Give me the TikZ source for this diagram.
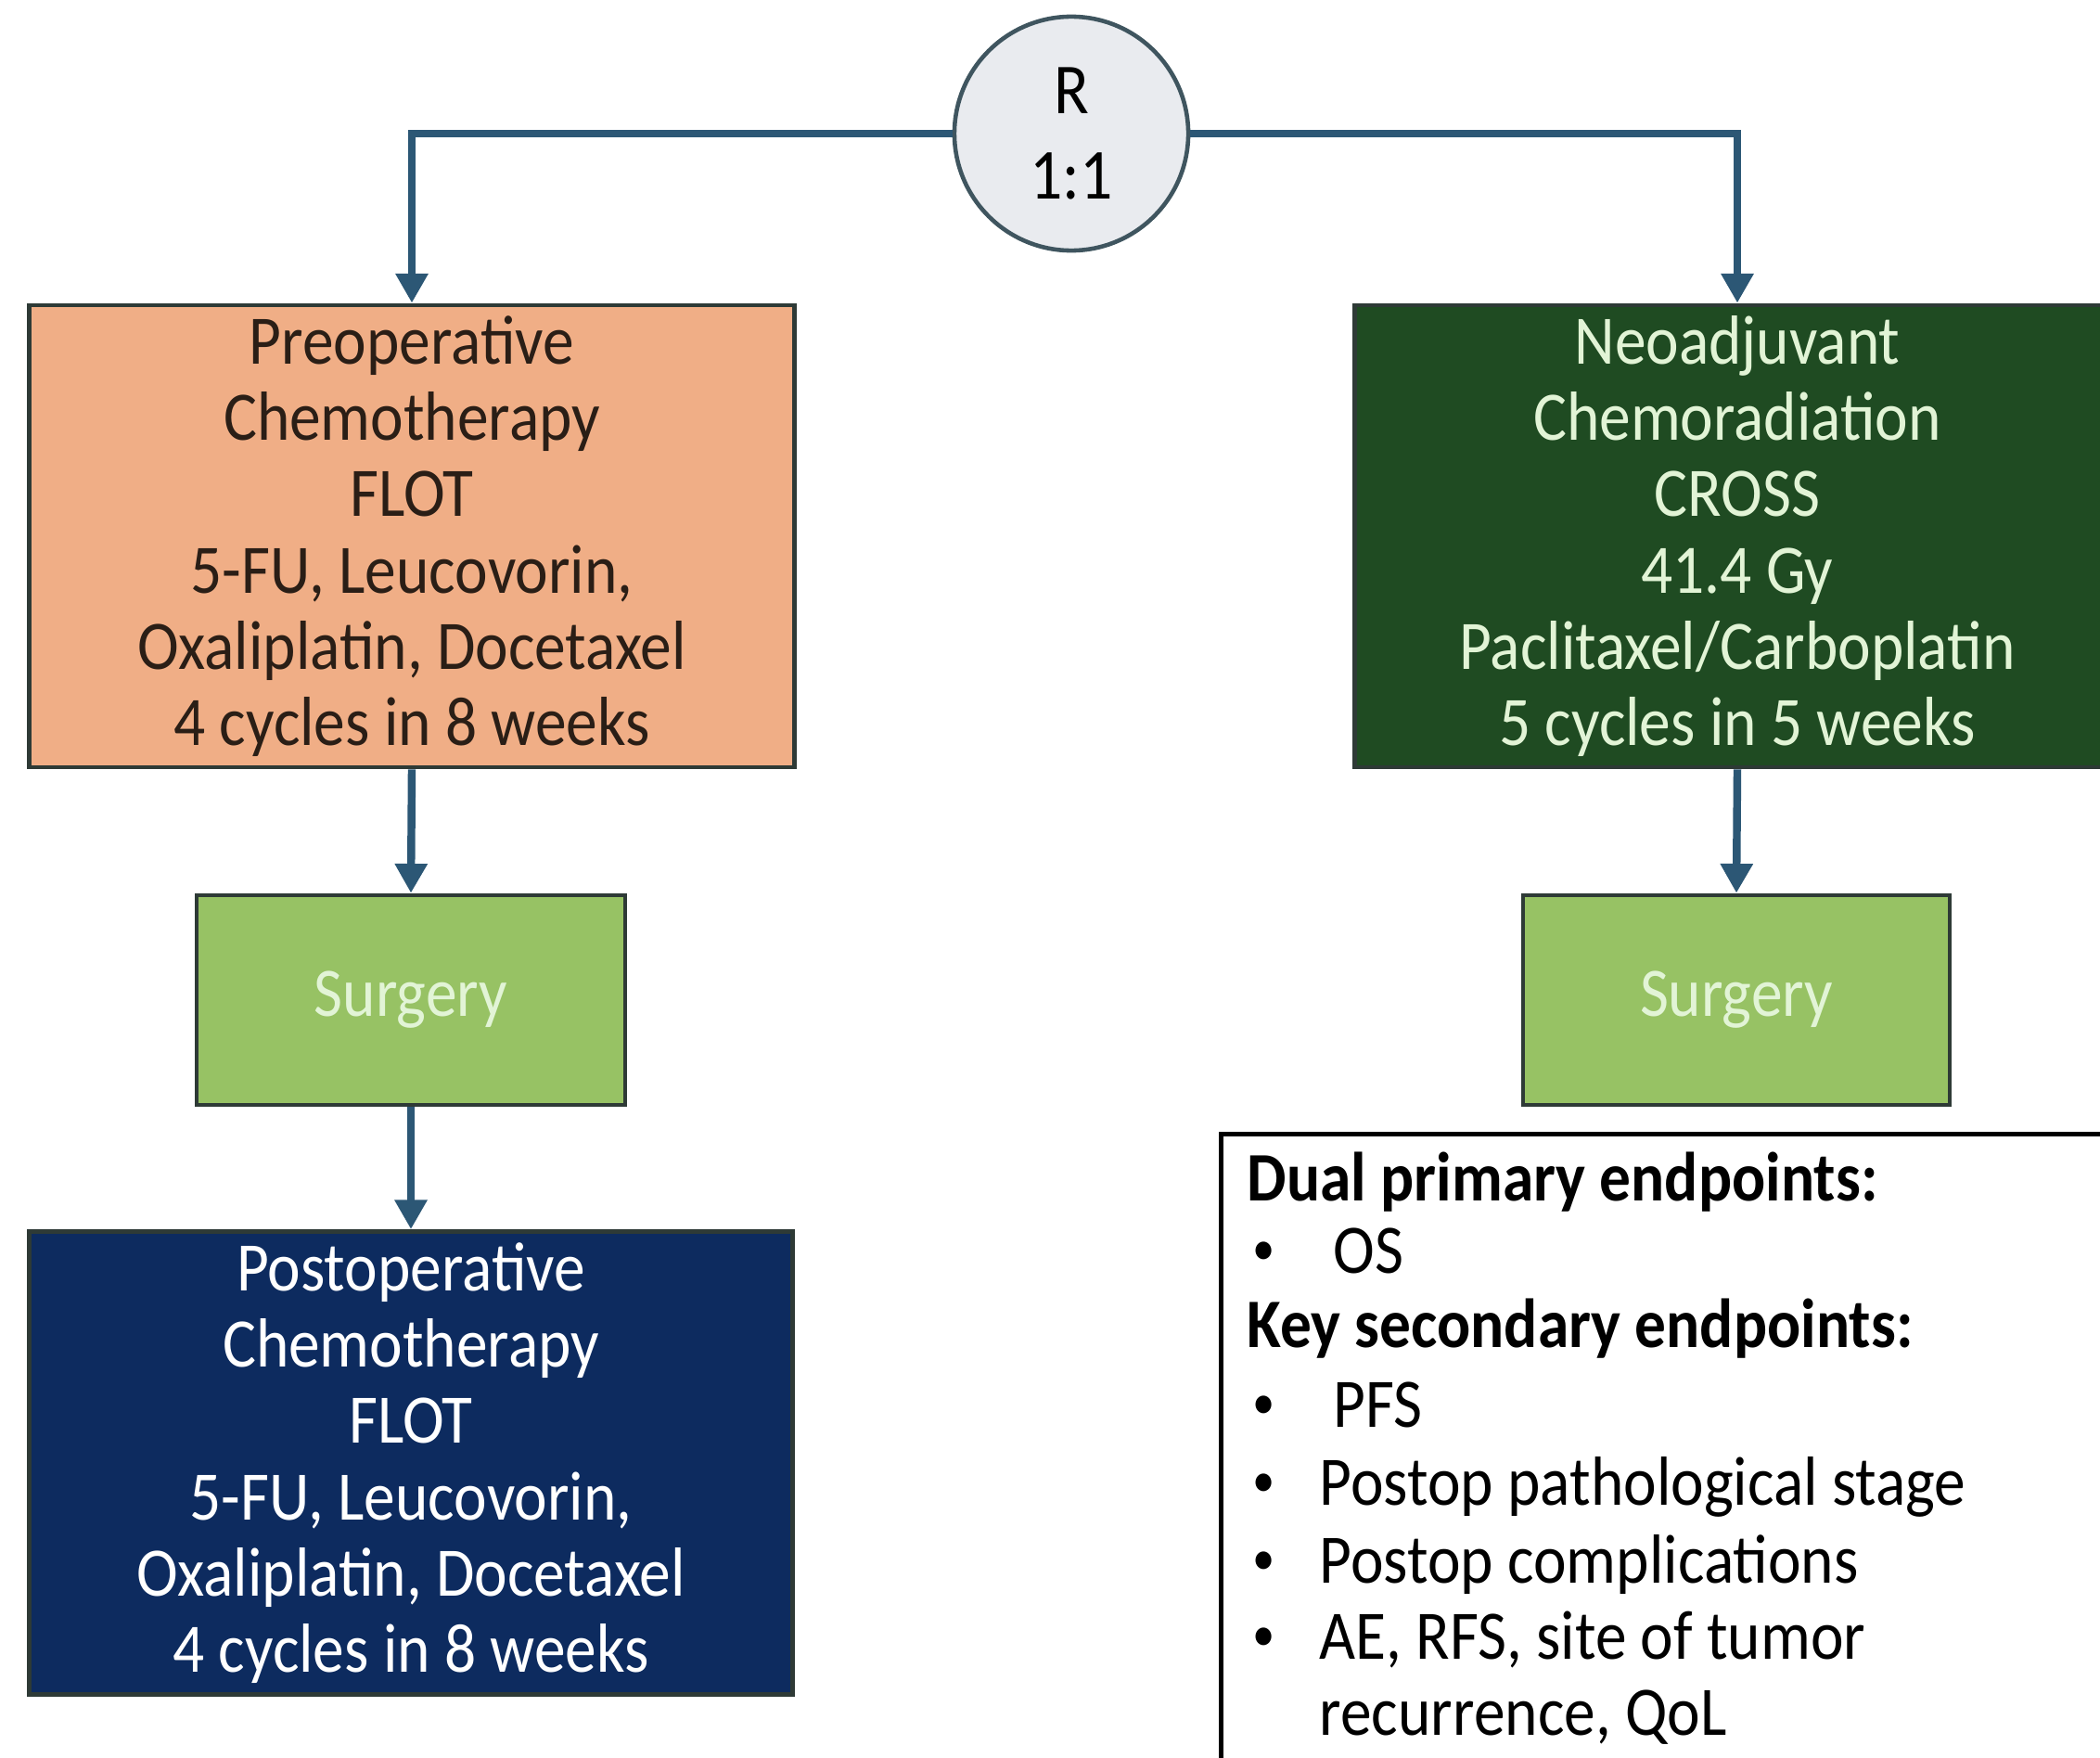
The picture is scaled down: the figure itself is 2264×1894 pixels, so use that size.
\documentclass[tikz,border=0pt]{standalone}
\usepackage{fontspec}
\setmainfont[FakeStretch=0.9]{Carlito}
\usetikzlibrary{arrows.meta}
\definecolor{orangebox}{HTML}{F0AE86}
\definecolor{darkgreen}{HTML}{1F4B22}
\definecolor{lightgreen}{HTML}{97C264}
\definecolor{navybox}{HTML}{0D2B5F}
\definecolor{arrowblue}{HTML}{2C5775}
\definecolor{circfill}{HTML}{E9EBEF}
\definecolor{circline}{HTML}{3F555F}
\definecolor{greentext}{HTML}{E2F4D6}
\definecolor{darktext}{HTML}{2A1E16}
\definecolor{boxline}{HTML}{2E3A36}
\newcommand{\smallbul}{\raisebox{0.12em}{\scalebox{0.72}{\textbullet}}}
\begin{document}
\begin{tikzpicture}[x=0.01cm,y=-0.01cm,
  txt/.style={font=\fontsize{21.3pt}{23.4pt}\selectfont},
  box/.style={draw=boxline, line width=1.3pt, rectangle, align=center, inner sep=0pt, txt},
  arm/.style={draw=arrowblue, line width=2.4pt, -{Triangle[length=9pt,width=9.5pt]}},
  etext/.style={anchor=base west, inner sep=0pt, txt, text=black}]
\useasboundingbox (0,0) rectangle (2264,1894);
\clip (0,0) rectangle (2264,1894);
\fill[white] (0,0) rectangle (2264,1894);

\node[circle, draw=circline, fill=circfill, line width=1.3pt, minimum size=2.52cm, inner sep=0pt, align=center, font=\fontsize{22pt}{26pt}\selectfont] (rand) at (1155,144) {R\\1:1};

\node[box, fill=orangebox, text=darktext, minimum width=8.24cm, minimum height=4.98cm] (pre) at (444,578)
  {Preoperative\\Chemotherapy\\FLOT\\5-FU, Leucovorin,\\Oxaliplatin, Docetaxel\\4 cycles in 8 weeks};
\node[box, fill=darkgreen, text=greentext, minimum width=8.24cm, minimum height=4.98cm] (neo) at (1873,578)
  {Neoadjuvant\\Chemoradiation\\CROSS\\41.4 Gy\\Paclitaxel/Carboplatin\\5 cycles in 5 weeks};
\node[box, fill=lightgreen, text=greentext, minimum width=4.62cm, minimum height=2.26cm] (surgL) at (443,1078) {Surgery};
\node[box, fill=lightgreen, text=greentext, minimum width=4.60cm, minimum height=2.26cm] (surgR) at (1872,1078) {Surgery};
\node[box, fill=navybox, text=white, minimum width=8.23cm, minimum height=4.99cm] (post) at (443,1577)
  {Postoperative\\Chemotherapy\\FLOT\\5-FU, Leucovorin,\\Oxaliplatin, Docetaxel\\4 cycles in 8 weeks};

\node[draw=black, line width=1.3pt, fill=white, anchor=north west, minimum width=10cm, minimum height=7cm, inner sep=0pt] (endbox) at (1314,1220) {};
\node[etext] (e1) at (1344,1294) {\textbf{Dual primary endpoints:}};
\node[etext] (e2) at (1350,1372) {\makebox[0.87cm][l]{\smallbul}OS};
\node[etext] (e3) at (1344,1452) {\textbf{Key secondary endpoints:}};
\node[etext] (e4) at (1350,1538) {\makebox[0.87cm][l]{\smallbul}PFS};
\node[etext] (e5) at (1350,1622) {\makebox[0.72cm][l]{\smallbul}Postop pathological stage};
\node[etext] (e6) at (1350,1706) {\makebox[0.72cm][l]{\smallbul}Postop complications};
\node[etext] (e7) at (1350,1788) {\makebox[0.72cm][l]{\smallbul}AE, RFS, site of tumor};
\node[etext] (e8) at (1350,1870) {\makebox[0.72cm][l]{}recurrence, QoL};

\draw[arm] (rand.west) -| (pre.north);
\draw[arm] (rand.east) -| (neo.north);
\draw[arm] (pre.south) -- (surgL.north);
\draw[arm] (surgL.south) -- (post.north);
\draw[arm] (neo.south) -- (surgR.north);
\end{tikzpicture}
\end{document}
